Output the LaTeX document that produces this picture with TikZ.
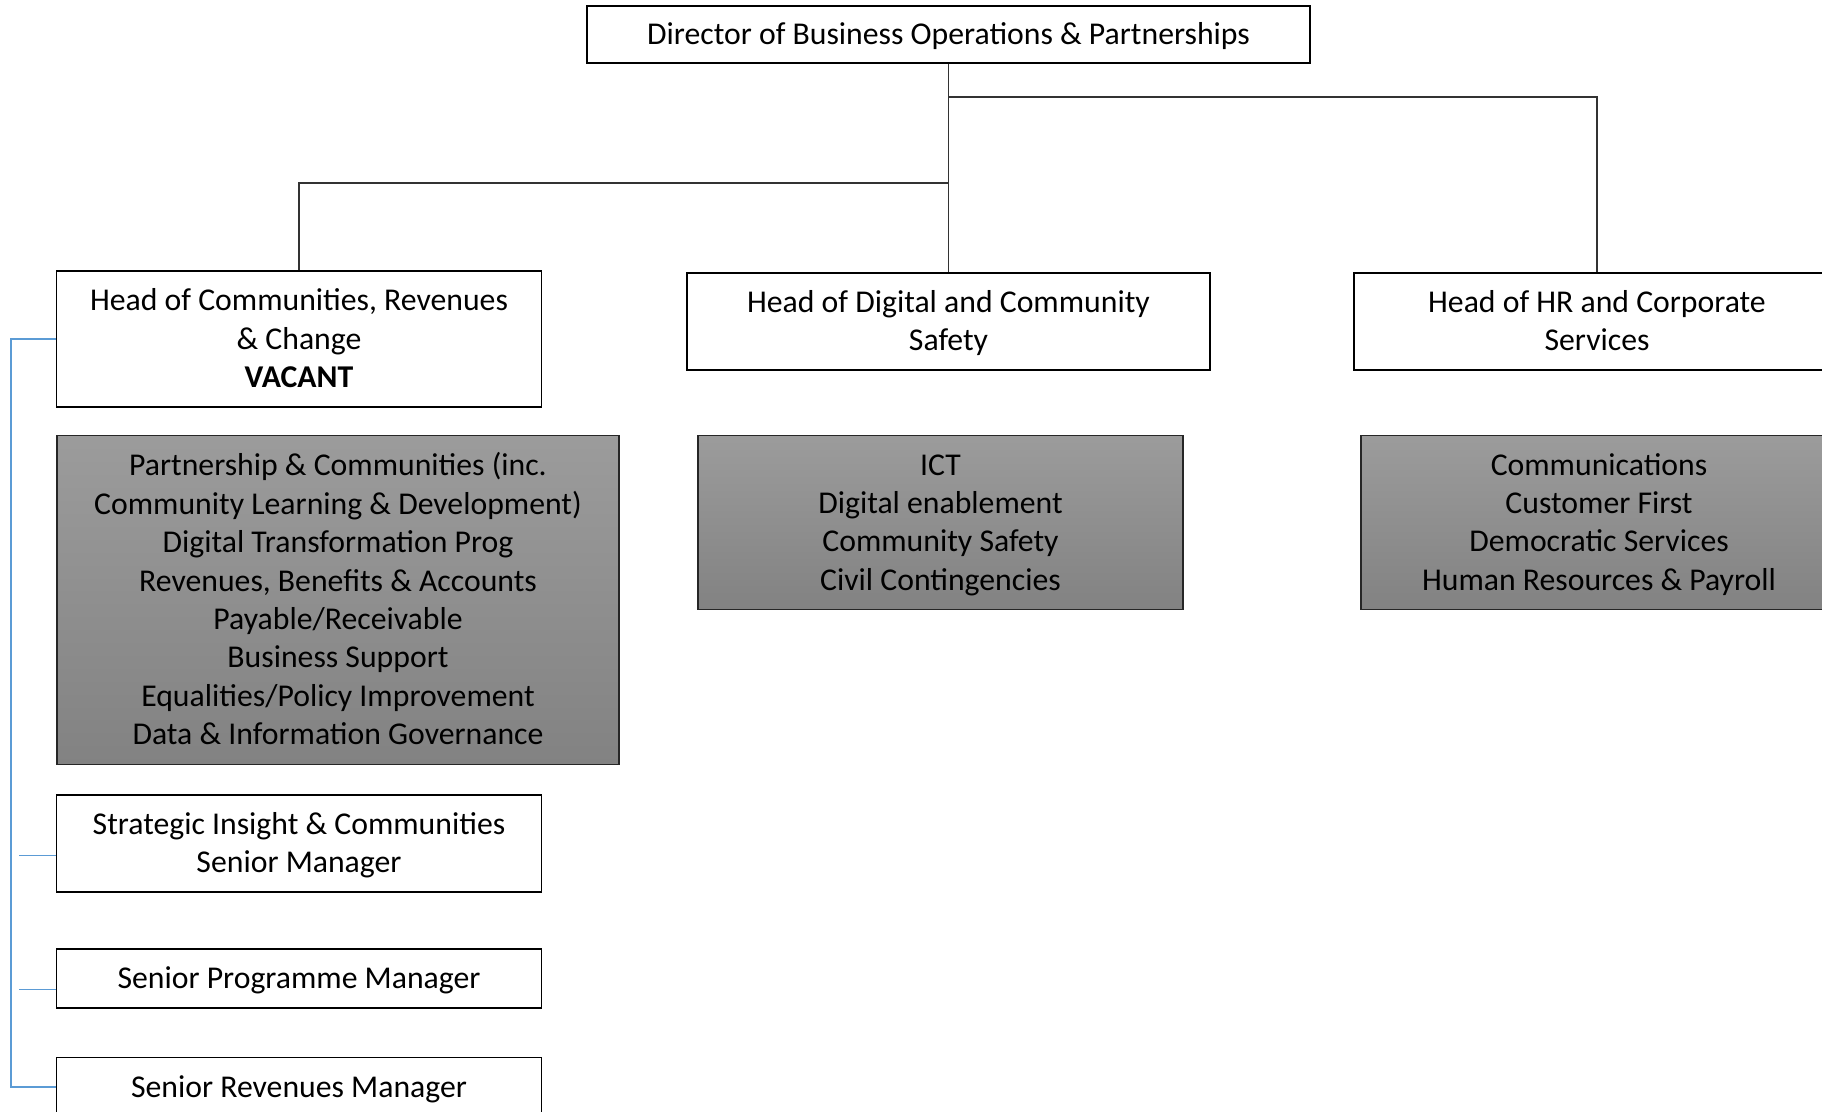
\documentclass[tikz,border=0pt]{standalone}
\usepackage{fontspec}
\setmainfont{Carlito}
\newcommand\mystrut{\rule[-6.75pt]{0pt}{28.8pt}}
\begin{document}
\begin{tikzpicture}[x=0.75pt,y=-0.75pt,
  every node/.style={inner sep=0pt, align=center, font=\fontsize{23.8}{28.8}\selectfont,
    execute at end node=\mystrut},
  wbox/.style={draw=black, line width=1.1pt, fill=white},
  gbox/.style={draw=black!85, line width=0.9pt, top color=gray!78, bottom color=gray!102!black},
  conn/.style={draw=black!80, line width=0.8pt},
  bconn/.style={line width=0.8pt, color={rgb,255:red,91;green,155;blue,213}}
]
\useasboundingbox (0,0) rectangle (1822,1111);
\clip (0,0) rectangle (1822,1111);

\node[wbox, minimum width=542.25pt, minimum height=42.75pt] (dir) at (948.5,34.5) {\mystrut Director of Business Operations \& Partnerships};
\node[wbox, minimum width=363.4pt, minimum height=102pt] (hc) at (299,339) {\mystrut Head of Communities, Revenues\\ \& Change\\ \textbf{VACANT}};
\node[wbox, minimum width=392.25pt, minimum height=72.75pt] (hd) at (948.5,321.5) {\mystrut Head of Digital and Community\\ Safety};
\node[wbox, minimum width=364.5pt, minimum height=72.75pt] (hr) at (1597,321.5) {\mystrut Head of HR and Corporate\\ Services};

\node[gbox, minimum width=421.5pt, minimum height=246.75pt] (g1) at (338,600) {\mystrut Partnership \& Communities (inc.\\ Community Learning \& Development)\\ Digital Transformation Prog\\ Revenues, Benefits \& Accounts\\ Payable/Receivable\\ Business Support\\ Equalities/Policy Improvement\\ Data \& Information Governance};
\node[gbox, minimum width=363.75pt, minimum height=130.5pt] (g2) at (940.5,522.5) {\mystrut ICT\\ Digital enablement\\ Community Safety\\ Civil Contingencies};
\node[gbox, minimum width=357pt, minimum height=130.5pt] (g3) at (1599,522.5) {\mystrut Communications\\ Customer First\\ Democratic Services\\ Human Resources \& Payroll};

\node[wbox, minimum width=363.4pt, minimum height=72.75pt] (si) at (299,843.5) {\mystrut Strategic Insight \& Communities\\ Senior Manager};
\node[wbox, minimum width=363.4pt, minimum height=44.25pt] (spm) at (299,978.5) {\mystrut Senior Programme Manager};
\node[wbox, minimum width=363.4pt, minimum height=44.25pt] (sr) at (299,1087) {\mystrut Senior Revenues Manager};

\coordinate (j1) at (948.5,183);
\coordinate (j2) at (948.5,97);
\draw[conn] (dir.south) -- (j1) -- (hd.north);
\draw[conn] (j1) -- (hc.north |- j1) -- (hc.north);
\draw[conn] (j2) -| (hr.north);

\draw[bconn] (hc.west) -- ++(-45,0) |- (sr.west);
\draw[bconn] ([yshift=-9pt]si.west) -- ++(-37,0);
\draw[bconn] ([yshift=-8pt]spm.west) -- ++(-37,0);
\end{tikzpicture}
\end{document}
